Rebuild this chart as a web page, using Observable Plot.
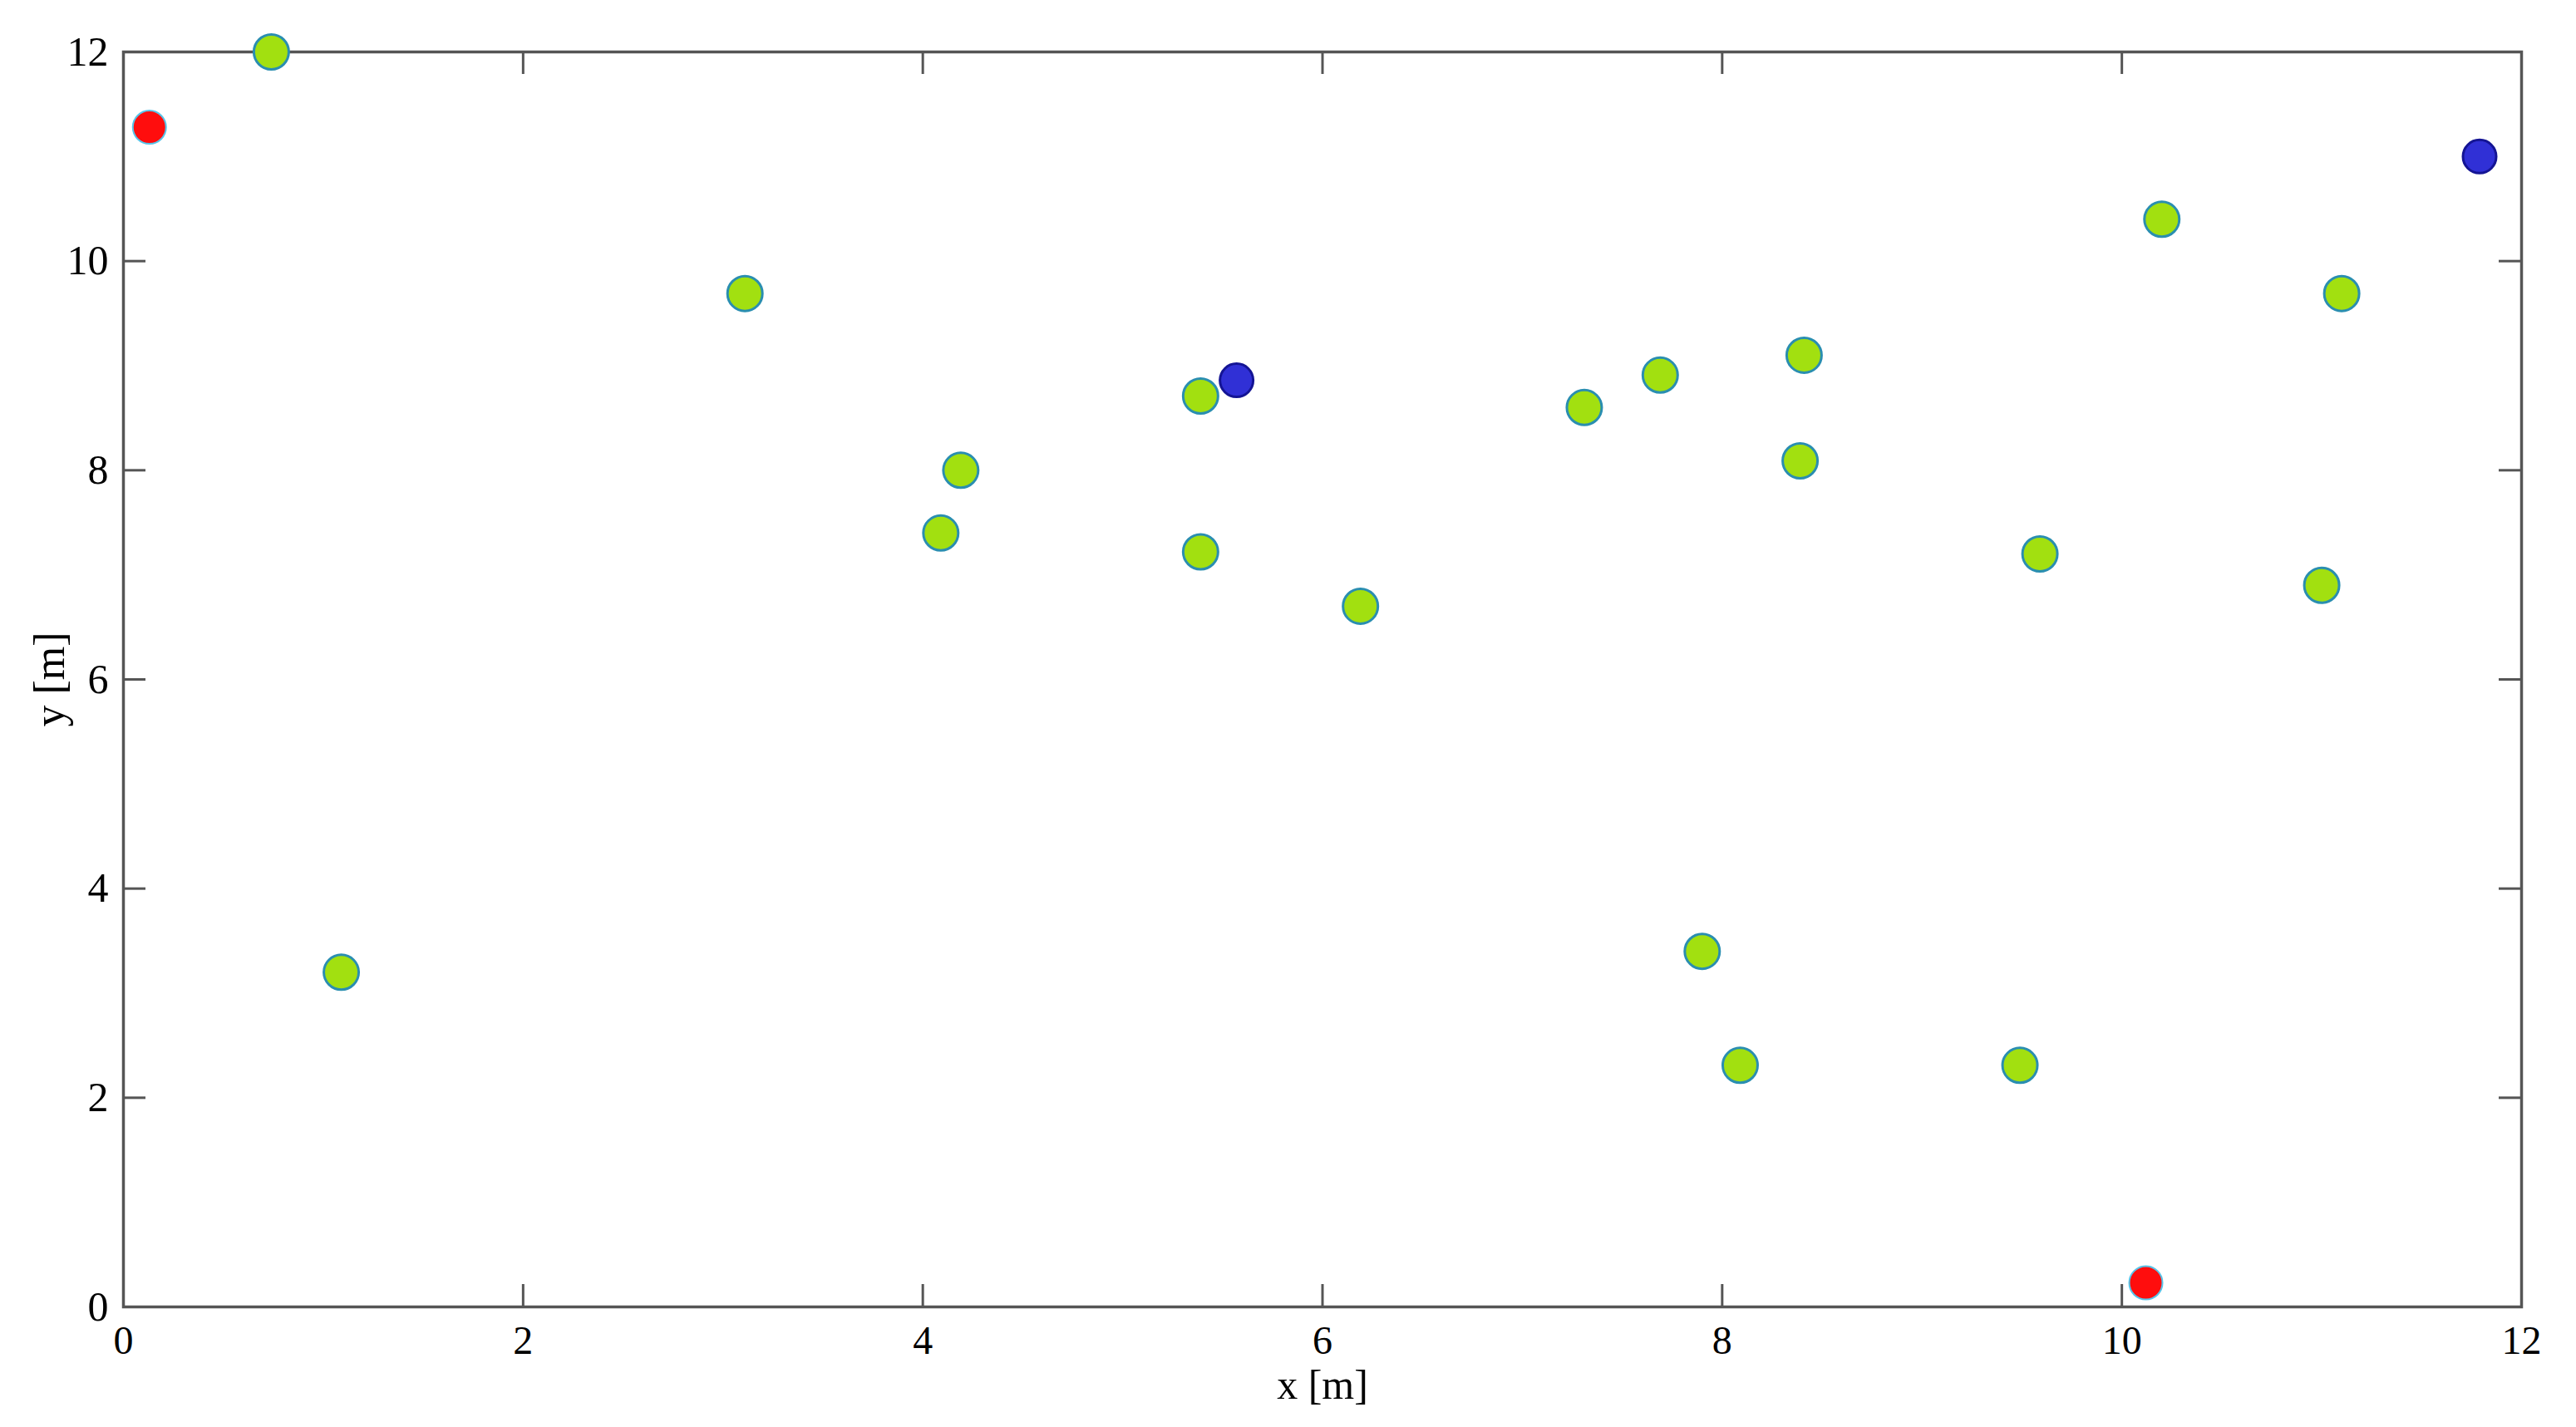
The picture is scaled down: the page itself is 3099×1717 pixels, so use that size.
<!DOCTYPE html>
<html>
<head>
<meta charset="utf-8">
<script src="https://cdn.jsdelivr.net/npm/d3@7"></script>
<script src="https://cdn.jsdelivr.net/npm/@observablehq/plot@0.6"></script>
<style>
  html, body { margin: 0; padding: 0; background: #fff; }
  #chart { width: 3099px; height: 1717px; }
</style>
</head>
<body>
<div id="chart"></div>
<script>
// Data (metres)
const greenX = [0.74, 3.11, 1.09, 4.19, 4.09, 5.39, 5.39, 6.19, 7.31, 7.69, 8.41, 8.39, 7.90, 8.09, 9.49, 9.59, 10.20, 11.10, 11.00];
const greenY = [12.0, 9.69, 3.20, 8.00, 7.40, 8.71, 7.22, 6.70, 8.60, 8.91, 9.10, 8.09, 3.40, 2.31, 2.31, 7.20, 10.40, 9.69, 6.90];
const redX = [0.13, 10.12];
const redY = [11.28, 0.23];
const blueX = [5.57, 11.79];
const blueY = [8.86, 11.00];
const xTicks = [0, 2, 4, 6, 8, 10, 12];
const yTicks = [0, 2, 4, 6, 8, 10, 12];
const xLabel = "x [m]";
const yLabel = "y [m]";

const toPts = (xs, ys) => xs.map((x, i) => ({x, y: ys[i]}));
const green = toPts(greenX, greenY);
const red = toPts(redX, redY);
const blue = toPts(blueX, blueY);

const W = 3099, H = 1717;
const mL = 148, mR = 66, mT = 62, mB = 145;
const plotH = H - mT - mB, plotW = W - mL - mR;
const tickLen = 27;
const font = "Liberation Serif, Times New Roman, serif";
const axisColor = "#555";

const chart = Plot.plot({
  width: W,
  height: H,
  marginLeft: mL,
  marginRight: mR,
  marginTop: mT,
  marginBottom: mB,
  style: {fontFamily: font, background: "#fff", color: "#000"},
  x: {domain: [0, 12], axis: null},
  y: {domain: [0, 12], axis: null},
  marks: [
    // inward ticks on all four sides
    Plot.tickX(xTicks, {x: d => d, insetTop: plotH - tickLen, stroke: axisColor, strokeWidth: 3}),
    Plot.tickX(xTicks, {x: d => d, insetBottom: plotH - tickLen, stroke: axisColor, strokeWidth: 3}),
    Plot.tickY(yTicks, {y: d => d, insetRight: plotW - tickLen, stroke: axisColor, strokeWidth: 3}),
    Plot.tickY(yTicks, {y: d => d, insetLeft: plotW - tickLen, stroke: axisColor, strokeWidth: 3}),
    Plot.frame({stroke: axisColor, strokeWidth: 3.5}),
    Plot.axisX({ticks: xTicks, tickSize: 0, tickPadding: 22, fontSize: 48, label: null, tickFormat: d => String(d)}),
    Plot.axisY({ticks: yTicks, tickSize: 0, tickPadding: 18, fontSize: 50, label: null, tickFormat: d => String(d)}),
    Plot.text([xLabel], {frameAnchor: "bottom", dy: 94, lineAnchor: "middle", textAnchor: "middle", fontSize: 50, fill: "#000"}),
    Plot.text([yLabel], {frameAnchor: "left", dx: -88, rotate: -90, lineAnchor: "middle", textAnchor: "middle", fontSize: 52, fill: "#000"}),
    Plot.dot(green, {x: "x", y: "y", r: 21, fill: "#a2e010", stroke: "#2a8eb0", strokeWidth: 3}),
    Plot.dot(red, {x: "x", y: "y", r: 20, fill: "#ff0d0d", stroke: "#58c4e8", strokeWidth: 2}),
    Plot.dot(blue, {x: "x", y: "y", r: 20, fill: "#3030d6", stroke: "#141494", strokeWidth: 3})
  ]
});
document.getElementById("chart").appendChild(chart);
</script>
</body>
</html>
